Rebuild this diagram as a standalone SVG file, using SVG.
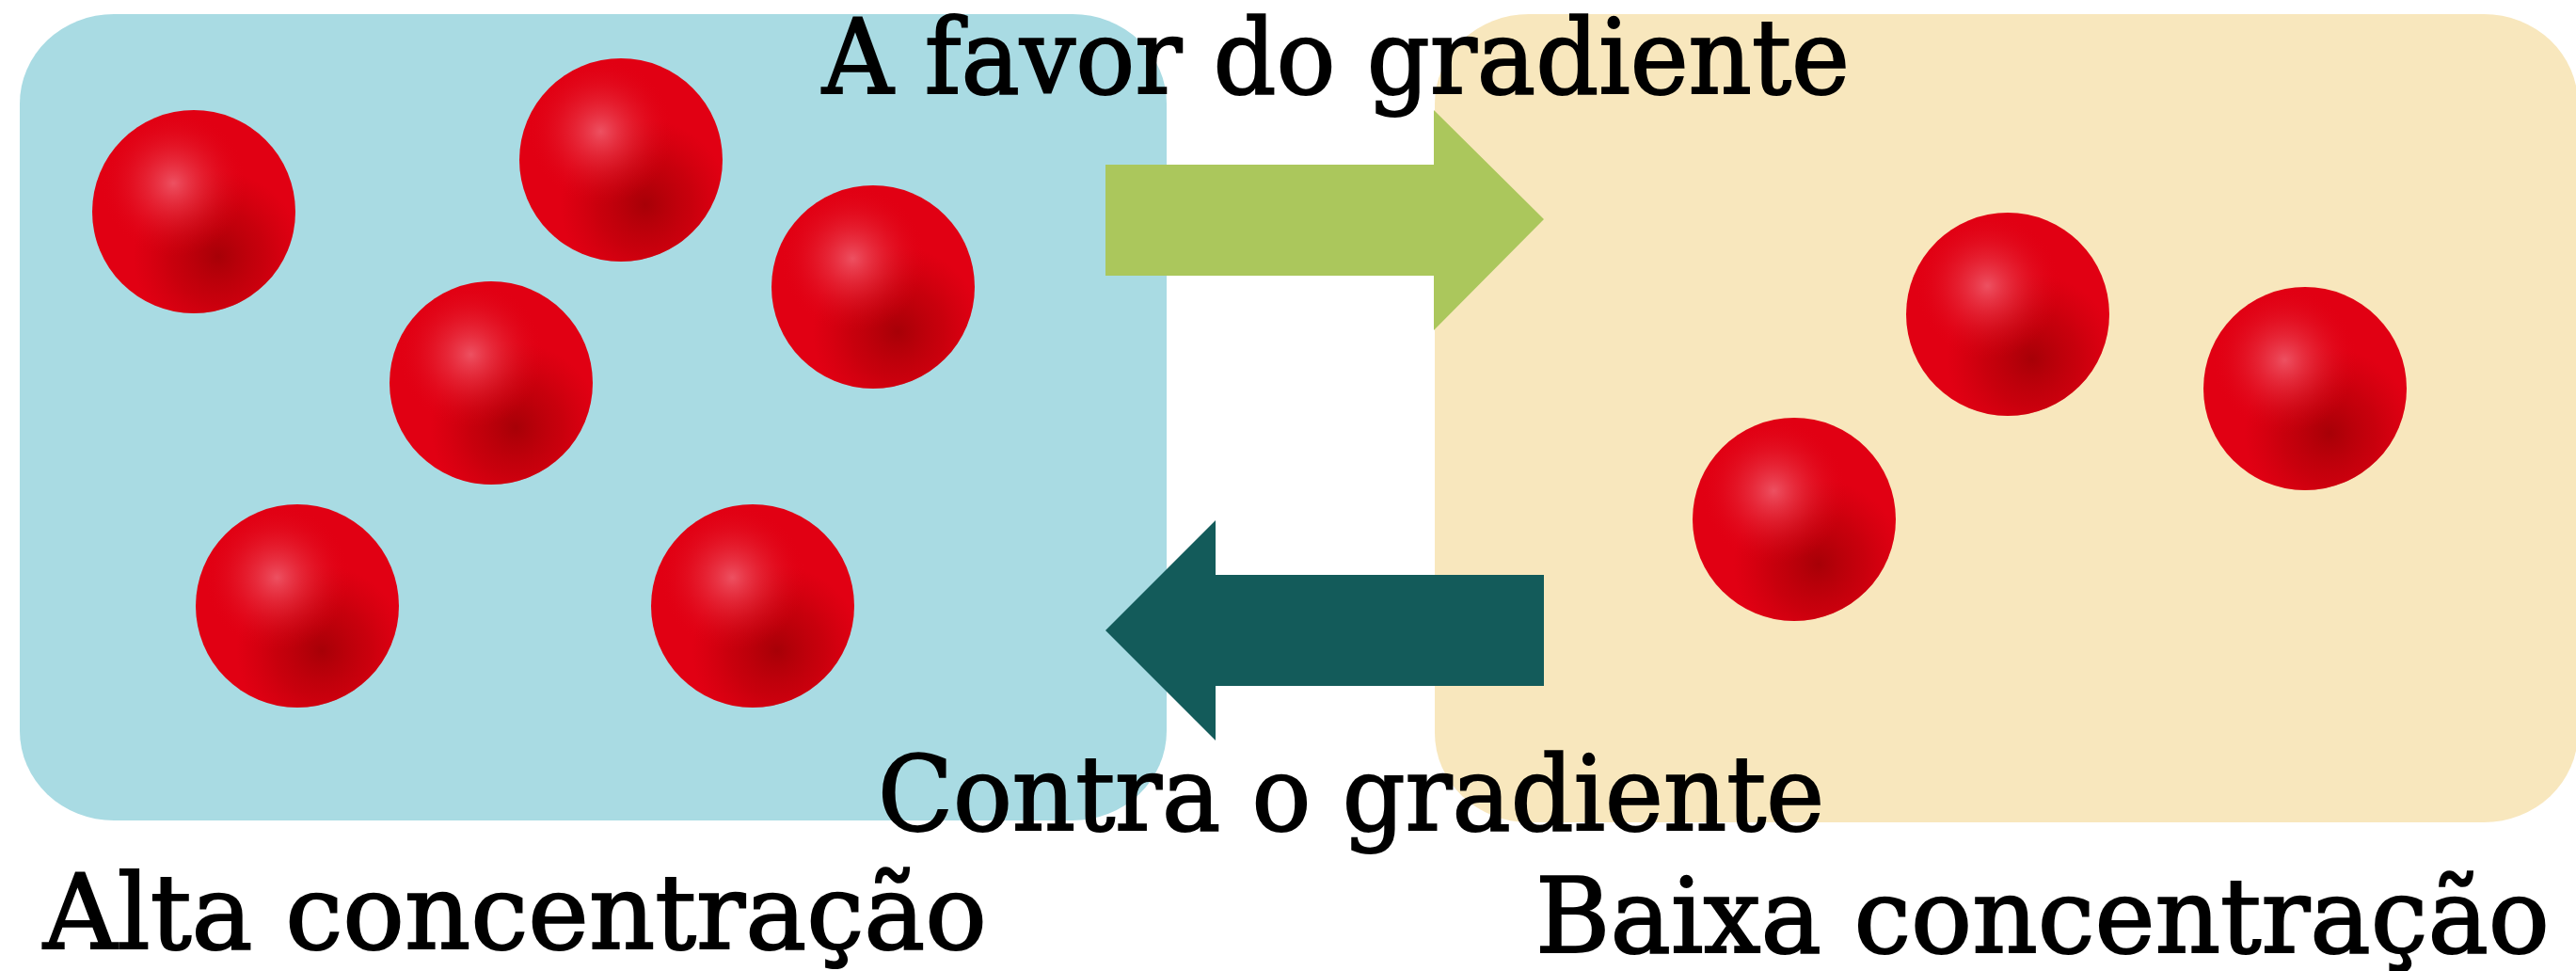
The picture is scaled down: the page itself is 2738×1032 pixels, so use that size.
<svg xmlns="http://www.w3.org/2000/svg" width="2738" height="1032" viewBox="0 0 2738 1032">
  <style>
    .lbl { font-family: "DejaVu Serif", "Liberation Serif", serif; font-size: 111px; fill: #000; stroke: #000; stroke-width: 2px; }
    .sph { fill: #e10013; }
  </style>
  <defs>
    <radialGradient id="shade" cx="0.62" cy="0.72" r="0.42">
      <stop offset="0" stop-color="#a40006" stop-opacity="0.95"/>
      <stop offset="0.55" stop-color="#b50008" stop-opacity="0.55"/>
      <stop offset="1" stop-color="#c0000a" stop-opacity="0"/>
    </radialGradient>
    <radialGradient id="hl" cx="0.4" cy="0.36" r="0.36">
      <stop offset="0" stop-color="#ee5a6a" stop-opacity="0.9"/>
      <stop offset="0.5" stop-color="#e8303f" stop-opacity="0.45"/>
      <stop offset="1" stop-color="#e10013" stop-opacity="0"/>
    </radialGradient>
    <g id="sphere">
      <circle r="108" class="sph"/>
      <circle r="108" fill="url(#shade)"/>
      <circle r="108" fill="url(#hl)"/>
    </g>
  </defs>

  <g id="panel-high">
    <rect x="21" y="15" width="1219" height="857" rx="100" ry="95" fill="#a9dbe3"/>
    <use href="#sphere" x="206" y="225"/>
    <use href="#sphere" x="660" y="170"/>
    <use href="#sphere" x="928" y="305"/>
    <use href="#sphere" x="522" y="407"/>
    <use href="#sphere" x="316" y="644"/>
    <use href="#sphere" x="800" y="644"/>
  </g>

  <g id="panel-low">
    <rect x="1525" y="15" width="1215" height="859" rx="100" ry="95" fill="#f8e7bd"/>
    <use href="#sphere" x="2134" y="334"/>
    <use href="#sphere" x="2450" y="413"/>
    <use href="#sphere" x="1907" y="552"/>
  </g>

  <g id="connectors">
    <polygon id="arrow-favor" points="1175,175 1524,175 1524,117 1641,233 1524,351 1524,293 1175,293" fill="#abc75c"/>
    <polygon id="arrow-contra" points="1641,611 1292,611 1292,553 1175,670 1292,787 1292,729 1641,729" fill="#135b5a"/>
  </g>

  <g id="labels">
    <text class="lbl" x="874" y="99" textLength="1092" lengthAdjust="spacingAndGlyphs">A favor do gradiente</text>
    <text class="lbl" x="933" y="882" textLength="1006" lengthAdjust="spacingAndGlyphs">Contra o gradiente</text>
    <text class="lbl" x="46" y="1008" textLength="1003" lengthAdjust="spacingAndGlyphs">Alta concentração</text>
    <text class="lbl" x="1632" y="1012" textLength="1078" lengthAdjust="spacingAndGlyphs">Baixa concentração</text>
  </g>
</svg>
